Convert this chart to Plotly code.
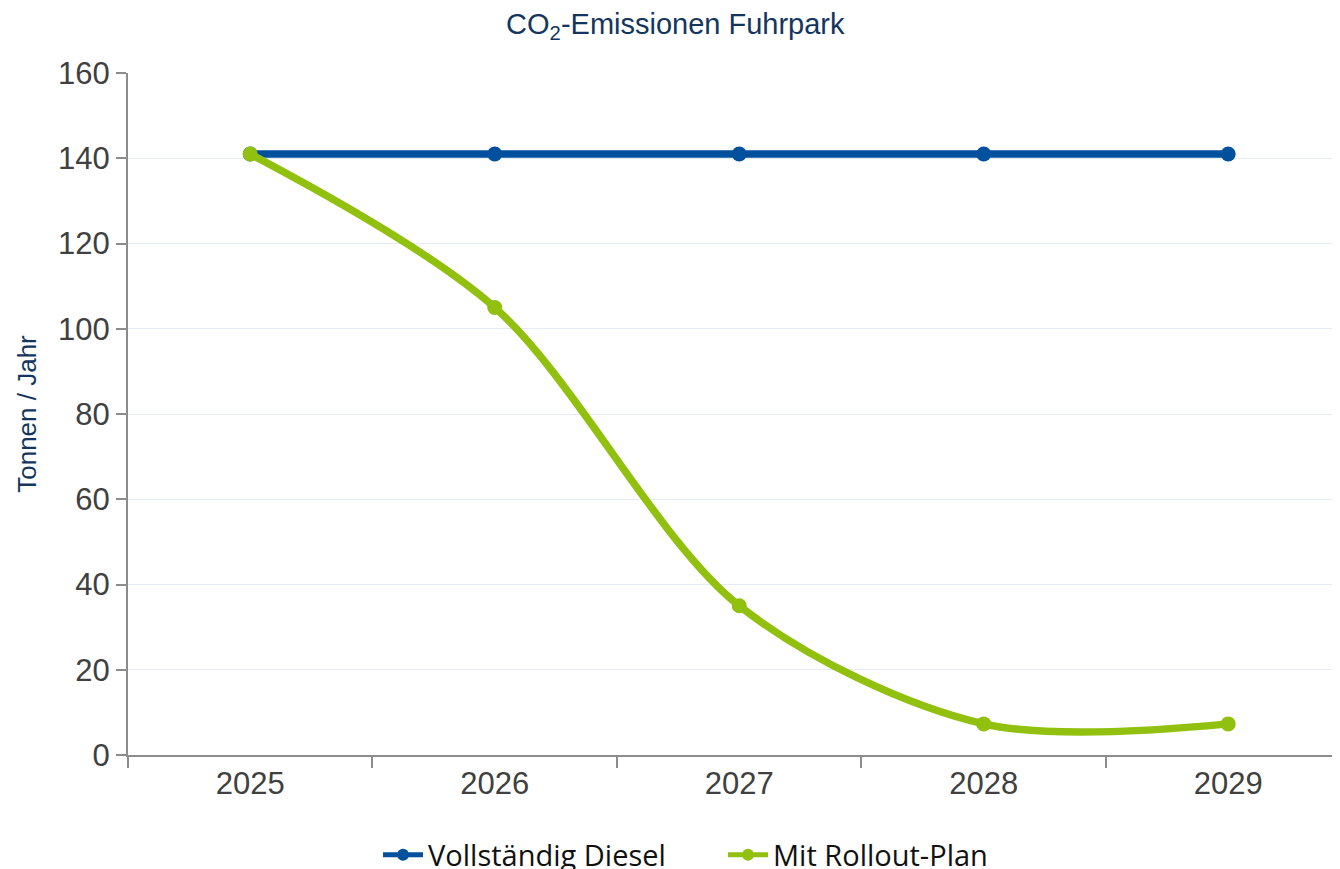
import plotly.graph_objects as go

years = ["2025", "2026", "2027", "2028", "2029"]
diesel = [141, 141, 141, 141, 141]
rollout = [141, 105, 35, 7.3, 7.3]

title_text = "CO<sub>2</sub>-Emissionen Fuhrpark"
y_title = "Tonnen / Jahr"
y_ticks = [0, 20, 40, 60, 80, 100, 120, 140, 160]

BLUE = "#00509e"
GREEN = "#92c00f"

fig = go.Figure()
fig.add_trace(go.Scatter(
    x=years, y=diesel, name="Vollständig Diesel", mode="lines+markers",
    line=dict(color=BLUE, width=7.5), marker=dict(color=BLUE, size=15),
))
fig.add_trace(go.Scatter(
    x=years, y=rollout, name="Mit Rollout-Plan", mode="lines+markers",
    line=dict(color=GREEN, width=7.5, shape="spline", smoothing=0.9),
    marker=dict(color=GREEN, size=15),
))

fig.update_layout(
    width=1340, height=869,
    paper_bgcolor="white", plot_bgcolor="white",
    margin=dict(l=120, r=0, t=65, b=122),
    font=dict(family="Liberation Sans, Arial, sans-serif", color="#404040"),
    title=dict(text=title_text, x=0.498, xanchor="center", xref="container",
               y=0.982, yref="container", yanchor="middle",
               font=dict(size=29, color="#14365e", family="Liberation Sans, Arial")),
    showlegend=True,
    legend=dict(orientation="h", x=0.5336, xanchor="center", xref="container",
                y=0.0253, yref="container", yanchor="middle",
                font=dict(size=29, color="#111111", family="Open Sans, Noto Sans"),
                itemwidth=40, tracegroupgap=0, itemsizing="constant",
                entrywidth=290),
)

fig.update_xaxes(
    type="category", range=[-0.5, 4.49], tickson="boundaries",
    showgrid=False, showline=True, linecolor="#8c8c8c", linewidth=2,
    ticks="outside", ticklen=11, tickwidth=2, tickcolor="#8c8c8c",
    tickfont=dict(size=31, color="#404040"), zeroline=False,
)
fig.update_yaxes(
    range=[0, 160], tickvals=y_ticks,
    showgrid=True, gridcolor="#e4ebf5", gridwidth=1,
    showline=True, linecolor="#8c8c8c", linewidth=2,
    ticks="outside", ticklen=10, tickwidth=2, tickcolor="#8c8c8c",
    tickfont=dict(size=31, color="#404040"), zeroline=False,
    title=dict(text=y_title, font=dict(size=26, color="#14365e"), standoff=14),
)

fig.write_html("out.html")
